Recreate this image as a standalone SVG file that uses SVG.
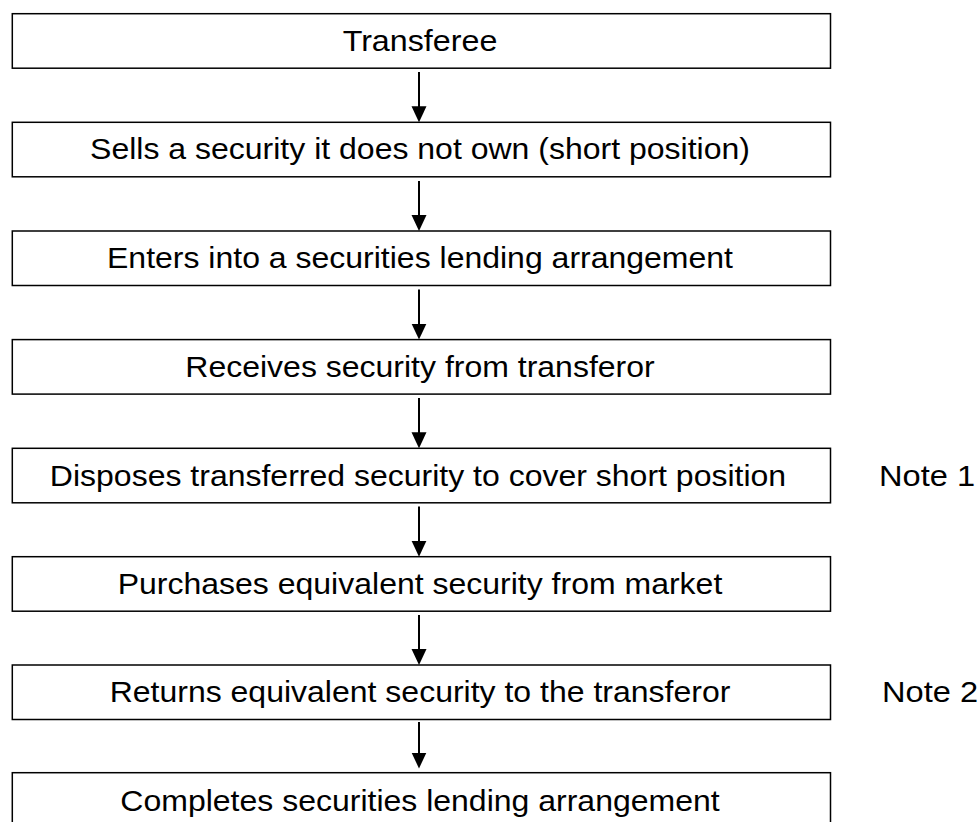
<svg xmlns="http://www.w3.org/2000/svg" width="979" height="822" viewBox="0 0 979 822">
<defs>
<style>
.box{fill:#fff;stroke:#000;stroke-width:1.5}
.t{font-family:"Liberation Sans",Arial,sans-serif;font-size:30px;fill:#000}
.c{text-anchor:middle}
.conn{stroke:#000;stroke-width:2;fill:none}
</style>
<marker id="ah" markerUnits="userSpaceOnUse" markerWidth="16" markerHeight="16" viewBox="0 0 16 15" refX="5" refY="7.5" orient="auto">
<path d="M0,0 L16,7.5 L0,15 Z" fill="#000"/>
</marker>
</defs>
<rect width="979" height="822" fill="#fff"/>
<g id="connectors">
<line class="conn" x1="419" y1="72" x2="419" y2="111.3" marker-end="url(#ah)"/>
<line class="conn" x1="419" y1="181" x2="419" y2="220" marker-end="url(#ah)"/>
<line class="conn" x1="419" y1="289.5" x2="419" y2="328.6" marker-end="url(#ah)"/>
<line class="conn" x1="419" y1="398" x2="419" y2="437.3" marker-end="url(#ah)"/>
<line class="conn" x1="419" y1="506.5" x2="419" y2="545.7" marker-end="url(#ah)"/>
<line class="conn" x1="419" y1="615" x2="419" y2="654" marker-end="url(#ah)"/>
<line class="conn" x1="419" y1="722" x2="419" y2="757.5" marker-end="url(#ah)"/>
</g>
<g id="n1"><rect class="box" x="12.3" y="13.7" width="818.2" height="54.5"/><text class="t c" x="420" y="50.7" textLength="154.7" lengthAdjust="spacingAndGlyphs">Transferee</text></g>
<g id="n2"><rect class="box" x="12.3" y="122.3" width="818.2" height="54.5"/><text class="t c" x="420" y="159.3" textLength="659.8" lengthAdjust="spacingAndGlyphs">Sells a security it does not own (short position)</text></g>
<g id="n3"><rect class="box" x="12.3" y="231" width="818.2" height="54.5"/><text class="t c" x="420" y="268" textLength="626" lengthAdjust="spacingAndGlyphs">Enters into a securities lending arrangement</text></g>
<g id="n4"><rect class="box" x="12.3" y="339.6" width="818.2" height="54.5"/><text class="t c" x="420" y="376.6" textLength="469.4" lengthAdjust="spacingAndGlyphs">Receives security from transferor</text></g>
<g id="n5"><rect class="box" x="12.3" y="448.3" width="818.2" height="54.5"/><text class="t c" x="418" y="486.3" textLength="736.3" lengthAdjust="spacingAndGlyphs">Disposes transferred security to cover short position</text></g>
<g id="n6"><rect class="box" x="12.3" y="556.7" width="818.2" height="54.5"/><text class="t c" x="420" y="594" textLength="604.6" lengthAdjust="spacingAndGlyphs">Purchases equivalent security from market</text></g>
<g id="n7"><rect class="box" x="12.3" y="665" width="818.2" height="54.5"/><text class="t c" x="420" y="702.3" textLength="620.7" lengthAdjust="spacingAndGlyphs">Returns equivalent security to the transferor</text></g>
<g id="n8"><rect class="box" x="12.3" y="772.7" width="818.2" height="54.5"/><text class="t c" x="420" y="810.7" textLength="599.3" lengthAdjust="spacingAndGlyphs">Completes securities lending arrangement</text></g>
<g id="note1"><text class="t" x="879" y="486.3" textLength="96" lengthAdjust="spacingAndGlyphs">Note 1</text></g>
<g id="note2"><text class="t" x="882" y="702.3" textLength="96" lengthAdjust="spacingAndGlyphs">Note 2</text></g>
</svg>
